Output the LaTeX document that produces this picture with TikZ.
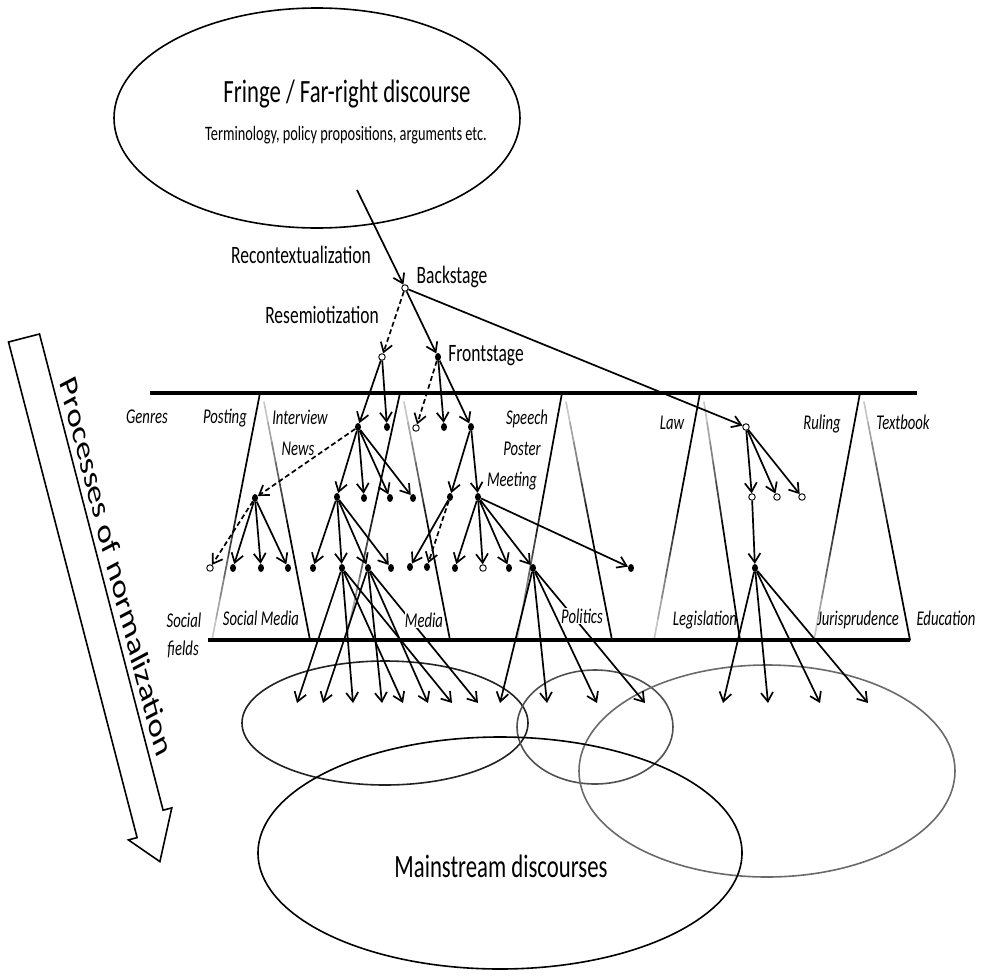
\documentclass[tikz,border=0pt]{standalone}
\usepackage{fontspec}
\setmainfont{Carlito}
\usepackage{tikz}
\usetikzlibrary{arrows.meta,positioning,calc,shapes.geometric}
\definecolor{ringdark}{HTML}{222222}
\definecolor{ringmid}{HTML}{505050}
\definecolor{ringlight}{HTML}{6A6A6A}

\tikzset{
  dotnode/.style={ellipse,fill=black,inner sep=0pt,minimum width=6pt,minimum height=8pt},
  opennode/.style={circle,draw=black,fill=white,line width=0.9pt,inner sep=0pt,minimum size=6.5pt},
  flow/.style={-{Straight Barb[length=9pt,width=12pt]},line width=1.7pt},
  dflow/.style={flow,dash pattern=on 5pt off 3pt},
  rim/.style={line width=1.6pt},
  fieldline/.style={line width=1.7pt,line cap=round},
  headline/.style={font=\fontsize{32.5}{34}\selectfont,xscale=0.7,transform shape,anchor=base},
  subline/.style={font=\fontsize{20.5}{22}\selectfont,xscale=0.7,transform shape,anchor=base},
  stage/.style={font=\fontsize{25}{26}\selectfont,xscale=0.7,transform shape,anchor=base},
  genre/.style={font=\fontsize{21}{22}\selectfont\itshape,xscale=0.7,transform shape,anchor=base,inner sep=1pt},
  fieldtag/.style={genre,fill=white,inner sep=0.5pt}
}

\newcommand{\fadeline}[2]{%
  \foreach \k in {0,...,11}{%
    \pgfmathsetmacro{\segA}{\k/12}%
    \pgfmathsetmacro{\segB}{(\k+1)/12}%
    \pgfmathsetmacro{\segTone}{min(100,100-(\k-5)*13)}%
    \draw[fieldline,black!\segTone] ($(#1)!\segA!(#2)$) -- ($(#1)!\segB!(#2)$);
  }}

\begin{document}
\begin{tikzpicture}[x=1pt,y=-1pt]
    \useasboundingbox (0,0) rectangle (985,977);
    \node[draw,ellipse,rim,minimum width=406pt,minimum height=220pt] (fringe) at (317,118) {};
    \node[headline] (fringetitle) at (347,102) {Fringe / Far-right discourse};
    \node[subline] (fringesub) at (346,140) {Terminology, policy propositions, arguments etc.};
    \coordinate (src) at (357,190);

    \foreach \ax/\lx/\rx in {260/212/310,400/346/450,562/517/612,700/654/740,860/814/910}{
        \fadeline{\ax,393}{\lx,640}
        \fadeline{\rx,640}{\ax+4,402}
    }
    \draw[line width=3.4pt] (150,393) -- (917,393);
    \draw[line width=3.4pt] (208,640) -- (910,640);

    \draw[rim,ringdark] (385,723) ellipse [x radius=143,y radius=62];
    \draw[rim,ringmid] (595,727) ellipse [x radius=78,y radius=57];
    \draw[rim,ringlight] (767,771) ellipse [x radius=188,y radius=106];
    \node[draw,ellipse,rim,minimum width=484pt,minimum height=232pt] (mainstream) at (500,853) {};
    \node[headline] (mainlabel) at (501,877) {Mainstream discourses};

    \draw[rim,line join=miter] (8.5,342) -- (137.1,837.6) -- (128.4,839.9) -- (159.9,861.6)
        -- (171.8,807.9) -- (163.1,810.2) -- (39.5,334) -- cycle;
    \node[font=\fontsize{37}{39}\selectfont,xscale=0.7,rotate=-69.7,transform shape,anchor=base] (normal) at (108,571) {Processes of normalization};

    \foreach \n/\x/\y in {B/405/288,R/382/357,F1/416/428,L0/746/427,L1/752/497,La/777/497,Lb/802/497,S2/210/568,M7/483/568}
        \node[opennode] (\n) at (\x,\y) {};
    \foreach \n/\x/\y in {F/438/357,N1/358/427,N2/387/427,F2/444/427,M1/471/427,S1/255/498,N3/337/497,Na/364/498,Nb/390/498,Nc/413/498,M2/450/497,M3/478/497,S3/233/568,S4/261/568,S5/288/568,N6/313/568,N4/342/568,N5/368/568,N7/391/568,M4/410/567,M5/427/567,M6/455/568,M8/509/568,P1/533/568,M9/631/568,L2/755/568}
        \node[dotnode] (\n) at (\x,\y) {};
    \foreach \x in {297,323,353,382,403,428,452,478,500,547,597,645,723,768,820,868}
        \coordinate (m\x) at (\x,703);

    \draw[flow] (src) -- (B);
    \foreach \a/\b in {B/F,B/L0,R/N1,R/N2,F/F2,F/M1,N1/N3,N1/Na,N1/Nb,N1/Nc,M1/M2,M1/M3,L0/L1,L0/La,L0/Lb,S1/S3,S1/S4,S1/S5,N3/N6,N3/N4,N3/N5,N3/N7,M2/M4,M3/M6,M3/M7,M3/M8,M3/P1,M3/M9,L1/L2}
        \draw[flow] (\a) -- (\b);
    \foreach \a/\b in {N4/m297,N4/m353,N4/m403,N4/m452,N5/m323,N5/m382,N5/m428,N5/m478,P1/m500,P1/m547,P1/m597,P1/m645,L2/m723,L2/m768,L2/m820,L2/m868}
        \draw[flow] (\a) -- (\b);
    \foreach \a/\b in {B/R,F/F1,N1/S1,S1/S2,M2/M5}
        \draw[dflow] (\a) -- (\b);

    \node[stage] (recontext) at (301,263) {Recontextualization};
    \node[stage] (backstage) at (452,283) {Backstage};
    \node[stage] (resemio) at (322,323) {Resemiotization};
    \node[stage] (frontstage) at (486,361) {Frontstage};

    \node[genre] (genres) at (147,423) {Genres};
    \node[genre] (posting) at (225,423) {Posting};
    \node[genre] (interview) at (300,424) {Interview};
    \node[genre] (news) at (298,455) {News};
    \node[genre] (speech) at (527,424) {Speech};
    \node[genre] (poster) at (522,455) {Poster};
    \node[genre] (meeting) at (512,486) {Meeting};
    \node[genre] (law) at (672,429) {Law};
    \node[genre] (ruling) at (822,429) {Ruling};
    \node[genre] (textbook) at (903,429) {Textbook};

    \node[genre] (social) at (184,627) {Social};
    \node[genre] (fields) at (183,655) {fields};
    \node[genre] (socialmedia) at (261,625) {Social Media};
    \node[fieldtag] (media) at (424,627) {Media};
    \node[fieldtag] (politics) at (582,623) {Politics};
    \node[genre] (legislation) at (705,625) {Legislation};
    \node[genre] (jurisprudence) at (858,625) {Jurisprudence};
    \node[genre] (education) at (946,625) {Education};
\end{tikzpicture}
\end{document}
